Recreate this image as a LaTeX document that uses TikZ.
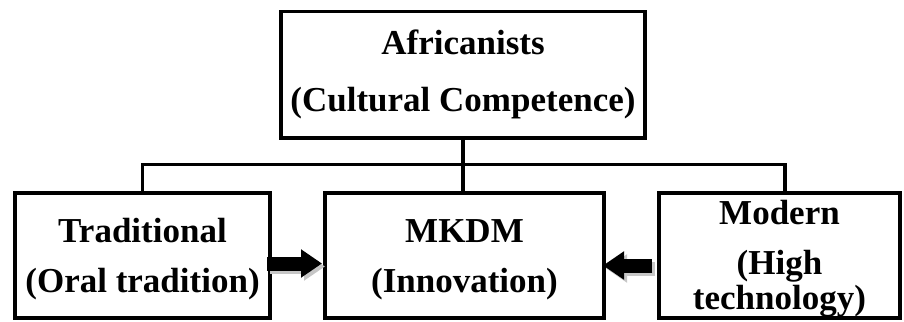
\documentclass[tikz,border=0pt]{standalone}
\usepackage{fontspec}
\setmainfont{Liberation Serif}
\usetikzlibrary{arrows.meta,positioning}

\begin{document}
\begin{tikzpicture}[
  x=1pt, y=-1pt,
  node distance=55pt and 55pt,
  box/.style={draw, line width=3.6pt, outer sep=0pt, inner sep=0pt,
    align=center, font=\fontsize{35}{50}\selectfont\bfseries},
  lower/.style={box, minimum height=125pt},
  fat/.style={line width=14pt, -{Triangle[length=21pt,width=27pt]}},
  shade/.style={fat, gray!45, transform canvas={xshift=3pt,yshift=-3pt}},
  wire/.style={line width=3.6pt}
]
\useasboundingbox (0,0) rectangle (904,321);

\node[box, minimum width=364pt, minimum height=126.5pt] (afr) at (463,74.75)
  {Africanists\\[7pt](Cultural Competence)};
\node[lower, minimum width=279pt, below=of afr, xshift=1.5pt] (mkdm) {\rule{0pt}{31pt}MKDM\\(Innovation)};
\node[lower, minimum width=255pt, left=of mkdm] (trad) {\rule{0pt}{31pt}Traditional\\(Oral tradition)};
\node[lower, minimum width=241pt, right=of mkdm] (modern) {\rule{0pt}{31pt}Modern\\(High\\[-15pt]technology)};

% tree connectors
\coordinate (fork) at ([yshift=-26.5pt]afr.south);
\draw[wire] (afr) -- (fork);
\draw[wire] (fork) -- (fork |- mkdm.north);
\draw[wire] (trad.north) |- (fork) -| ([xshift=5.5pt]modern.north);

% block arrows into the model
\draw[shade, shorten <=-3pt, shorten >=3pt] ([yshift=-8pt]trad.east) -- ([yshift=-8pt]mkdm.west);
\draw[fat, shorten <=-3pt, shorten >=3pt] ([yshift=-8pt]trad.east) -- ([yshift=-8pt]mkdm.west);
\draw[shade, shorten <=7pt, shorten >=-1pt] ([yshift=-10pt]modern.west) -- ([yshift=-10pt]mkdm.east);
\draw[fat, shorten <=7pt, shorten >=-1pt] ([yshift=-10pt]modern.west) -- ([yshift=-10pt]mkdm.east);
\end{tikzpicture}
\end{document}
